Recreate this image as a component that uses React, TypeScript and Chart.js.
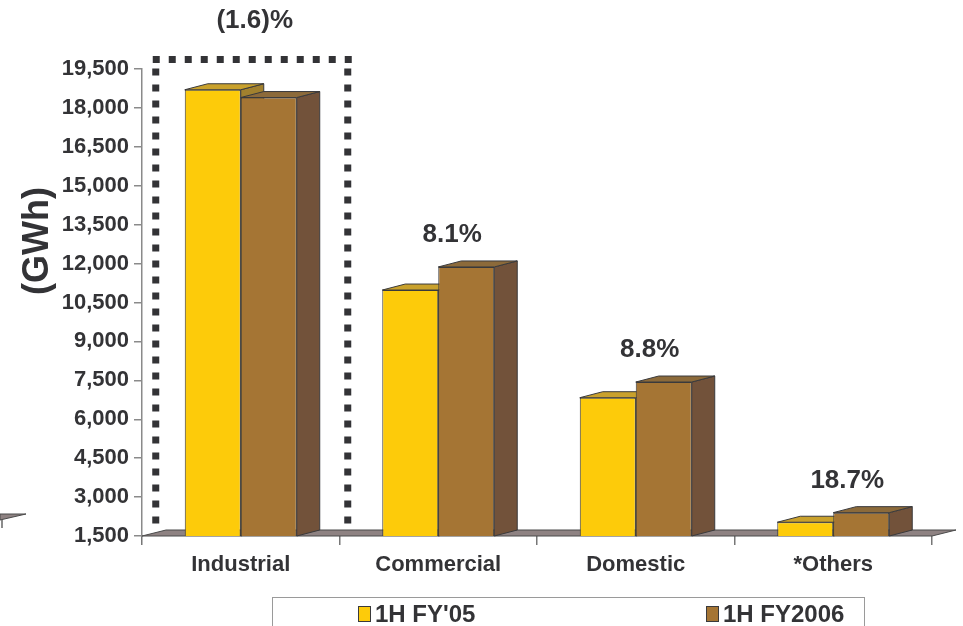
import React, { useEffect, useRef } from 'react';
import { Chart, registerables } from 'chart.js';

Chart.register(...registerables);

// ---- Data ----
const categories = ['Industrial', 'Commercial', 'Domestic', '*Others'];
const seriesFY05 = [18700, 10980, 6830, 2030];
const seriesFY06 = [18400, 11870, 7435, 2400];
const growthLabels = ['(1.6)%', '8.1%', '8.8%', '18.7%'];
const seriesNames = ["1H FY'05", '1H FY2006'];
const yMin = 1500;
const yMax = 19500;
const yStep = 1500;

// ---- Style ----
const FONT = "'Liberation Sans', Arial, Helvetica, sans-serif";
const TEXT = '#333336';
const YELLOW = { front: '#FDCB0A', top: '#C9A12C', side: '#A2812E' };
const BROWN = { front: '#A57534', top: '#8C6A3A', side: '#72523A' };
const EDGE = '#3a3a3c';
const DX = 23;
const DY = -6;

type Pt = [number, number];
function poly(ctx: CanvasRenderingContext2D, pts: Pt[], fill: string, stroke: string, lw = 1) {
  ctx.beginPath();
  ctx.moveTo(pts[0][0], pts[0][1]);
  for (let i = 1; i < pts.length; i++) ctx.lineTo(pts[i][0], pts[i][1]);
  ctx.closePath();
  ctx.fillStyle = fill;
  ctx.fill();
  ctx.lineWidth = lw;
  ctx.strokeStyle = stroke;
  ctx.stroke();
}

function drawDepth(chart: any, dsIndex: number, colors: { top: string; side: string }) {
  const ctx = chart.ctx as CanvasRenderingContext2D;
  const meta = chart.getDatasetMeta(dsIndex);
  const floor = chart.chartArea.bottom;
  meta.data.forEach((el: any) => {
    const p = el.getProps(['x', 'y', 'width', 'base'], true);
    const base = Math.min(p.base, floor);
    const y = p.y;
    const l = p.x - p.width / 2;
    const r = p.x + p.width / 2;
    poly(ctx, [[r, base], [r, y], [r + DX, y + DY], [r + DX, base + DY]], colors.side, EDGE);
    poly(ctx, [[l, y], [r, y], [r + DX, y + DY], [l + DX, y + DY]], colors.top, EDGE);
  });
}

const depthPlugin = {
  id: 'depth3d',
  beforeDatasetsDraw(chart: any) {
    const ctx = chart.ctx as CanvasRenderingContext2D;
    const { left, right, bottom } = chart.chartArea;
    ctx.save();
    // floor
    poly(ctx, [[left, bottom], [right, bottom], [right + DX + 1, bottom + DY], [left + DX + 1, bottom + DY]], '#8E8282', '#4a4a4a');
    // fragment of neighbouring floor at far left
    poly(ctx, [[0, 514], [26, 514], [0, 520]], '#8E8282', '#4a4a4a');
    ctx.strokeStyle = '#666';
    ctx.lineWidth = 1.5;
    ctx.beginPath();
    ctx.moveTo(2, 520);
    ctx.lineTo(2, 528);
    ctx.stroke();
    drawDepth(chart, 0, YELLOW);
    ctx.restore();
  },
  afterDatasetsDraw(chart: any) {
    const ctx = chart.ctx as CanvasRenderingContext2D;
    ctx.save();
    drawDepth(chart, 1, BROWN);
    ctx.restore();
  },
  afterDraw(chart: any) {
    const ctx = chart.ctx as CanvasRenderingContext2D;
    const xs = chart.scales.x;
    const m0 = chart.getDatasetMeta(0);
    const m1 = chart.getDatasetMeta(1);
    ctx.save();

    // dotted highlight box around first category
    const c0 = xs.getPixelForValue(0);
    const bl = c0 - 85;
    const br = c0 + 107;
    const bt = 59.5;
    const bb = 532;
    ctx.strokeStyle = TEXT;
    ctx.lineWidth = 7;
    ctx.setLineDash([7, 9]);
    ctx.beginPath();
    ctx.moveTo(bl - 3, bt);
    ctx.lineTo(br + 4, bt);
    ctx.moveTo(bl, bt + 9);
    ctx.lineTo(bl, bb);
    ctx.moveTo(br, bt + 9);
    ctx.lineTo(br, bb);
    ctx.stroke();
    ctx.setLineDash([]);

    // growth labels
    ctx.fillStyle = TEXT;
    ctx.font = `bold 26px ${FONT}`;
    ctx.textAlign = 'center';
    ctx.textBaseline = 'middle';
    growthLabels.forEach((t, i) => {
      const cx = xs.getPixelForValue(i) + 14;
      const top = Math.min(m0.data[i].y, m1.data[i].y) + DY;
      const cy = i === 0 ? bt - 39 : top - 26;
      ctx.fillText(t, cx, cy);
    });

    // y axis title
    ctx.save();
    ctx.translate(38, 241);
    ctx.rotate(-Math.PI / 2);
    ctx.font = `bold 36px ${FONT}`;
    ctx.fillText('(GWh)', 0, 0);
    ctx.restore();

    // legend
    ctx.lineWidth = 1;
    ctx.strokeStyle = '#9a9a9a';
    ctx.strokeRect(272.5, 597.5, 592, 40);
    const items = [
      { x: 358, color: YELLOW.front },
      { x: 706, color: BROWN.front },
    ];
    ctx.font = `bold 24px ${FONT}`;
    ctx.textAlign = 'left';
    ctx.textBaseline = 'middle';
    items.forEach((it, i) => {
      ctx.fillStyle = it.color;
      ctx.fillRect(it.x, 606, 13, 16);
      ctx.strokeStyle = EDGE;
      ctx.strokeRect(it.x + 0.5, 606.5, 12, 15);
      ctx.fillStyle = TEXT;
      ctx.fillText(chart.data.datasets[i].label, it.x + 17, 615);
    });
    ctx.restore();
  },
};

export default function App() {
  const ref = useRef<HTMLCanvasElement | null>(null);
  useEffect(() => {
    if (!ref.current) return;
    const chart = new Chart(ref.current, {
      type: 'bar',
      data: {
        labels: categories,
        datasets: [
          {
            label: seriesNames[0],
            data: seriesFY05,
            backgroundColor: YELLOW.front,
            borderColor: EDGE,
            borderWidth: 1,
            categoryPercentage: 0.567,
            barPercentage: 1,
          },
          {
            label: seriesNames[1],
            data: seriesFY06,
            backgroundColor: BROWN.front,
            borderColor: EDGE,
            borderWidth: 1,
            categoryPercentage: 0.567,
            barPercentage: 1,
          },
        ],
      },
      options: {
        responsive: false,
        animation: false,
        devicePixelRatio: 1,
        layout: { padding: { top: 69, right: 31, left: 0, bottom: 0 } },
        plugins: {
          legend: { display: false },
          tooltip: { enabled: false },
          title: { display: false },
        },
        scales: {
          x: {
            type: 'category',
            offset: true,
            border: { display: false },
            grid: {
              display: true,
              offset: true,
              drawOnChartArea: false,
              drawTicks: true,
              tickLength: 9,
              color: '#777',
              lineWidth: 1.5,
            },
            ticks: {
              color: TEXT,
              font: { family: FONT, weight: 'bold', size: 22 },
              padding: 7,
              autoSkip: false,
              maxRotation: 0,
            },
            afterFit: (scale: any) => {
              scale.height = 90;
            },
          },
          y: {
            min: yMin,
            max: yMax,
            border: { display: true, color: '#8a8a8a', width: 1.5 },
            grid: {
              display: true,
              drawOnChartArea: false,
              drawTicks: true,
              tickLength: 8,
              color: '#8a8a8a',
              lineWidth: 1.5,
            },
            ticks: {
              stepSize: yStep,
              color: TEXT,
              font: { family: FONT, weight: 'bold', size: 22 },
              padding: 5,
              callback: (v: any) => Number(v).toLocaleString('en-US'),
            },
            afterFit: (scale: any) => {
              scale.width = 142;
            },
          },
        },
      },
      plugins: [depthPlugin],
    } as any);
    return () => chart.destroy();
  }, []);

  return (
    <div style={{ position: 'fixed', left: 0, top: 0, width: 963, height: 626, background: '#fff', overflow: 'hidden' }}>
      <canvas ref={ref} width={963} height={626} style={{ display: 'block' }} />
    </div>
  );
}
